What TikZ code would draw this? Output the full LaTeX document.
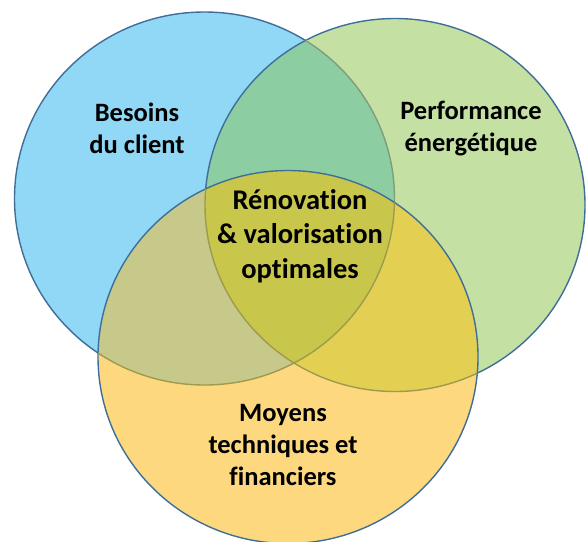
\documentclass[tikz,border=0pt]{standalone}
\usepackage{fontspec}
\setmainfont{Carlito}[Ligatures=NoCommon]
\definecolor{cblue}{HTML}{91D7F6}
\definecolor{cgreen}{HTML}{C5E0A3}
\definecolor{cyellow}{HTML}{FDD87F}
\definecolor{cbg}{HTML}{8DCDA2}
\definecolor{cby}{HTML}{C7C98B}
\definecolor{cgy}{HTML}{E3D052}
\definecolor{cbgy}{HTML}{C9C64C}
\definecolor{cline}{HTML}{3F6E98}
\definecolor{clineg}{HTML}{7F9C7C}
\definecolor{cliney}{HTML}{9E9A4E}
\begin{document}
\begin{tikzpicture}[x=1pt,y=-1pt,
  ring/.style={line width=1.4pt},
  lbl/.style={font=\bfseries\fontsize{26.5}{32}\selectfont, align=center, text=black, inner sep=0pt},
  mainlbl/.style={font=\bfseries\fontsize{28.5}{34.5}\selectfont, align=center, text=black, inner sep=0pt}]
\useasboundingbox (0,0) rectangle (588,541);
\coordinate (cb) at (204.5,198.5);
\coordinate (cg) at (395,205);
\coordinate (cy) at (288,357);
\def\Rx{190pt}
\def\Ry{186.5pt}
\tikzset{shp/.style={x radius=\Rx, y radius=\Ry}}
% blue
\fill[cblue] (cb) ellipse[shp];
\draw[ring,cline] (cb) ellipse[shp];
% green
\fill[cgreen] (cg) ellipse[shp];
\begin{scope}\clip (cb) ellipse[shp];
  \fill[cbg] (cg) ellipse[shp];
\end{scope}
\draw[ring,cline] (cg) ellipse[shp];
\begin{scope}\clip (cg) ellipse[shp];
  \draw[ring,clineg] (cb) ellipse[shp];
\end{scope}
% yellow
\fill[cyellow] (cy) ellipse[shp];
\begin{scope}\clip (cy) ellipse[shp];
  \fill[cby] (cb) ellipse[shp];
  \fill[cgy] (cg) ellipse[shp];
  \clip (cb) ellipse[shp];
  \fill[cbgy] (cg) ellipse[shp];
\end{scope}
\draw[ring,cline] (cy) ellipse[shp];
\begin{scope}\clip (cy) ellipse[shp];
  \draw[ring,cliney] (cb) ellipse[shp];
  \draw[ring,cliney] (cg) ellipse[shp];
\end{scope}
% labels
\node[lbl] (besoins) at (137,128) {Besoins\\du client};
\node[lbl] (perf) at (471,129) {Performance\\énergétique};
\node[mainlbl] (reno) at (300,236) {Rénovation\\\& valorisation\\optimales};
\node[lbl] (moyens) at (283,445) {Moyens\\techniques et\\financiers};
\end{tikzpicture}
\end{document}
